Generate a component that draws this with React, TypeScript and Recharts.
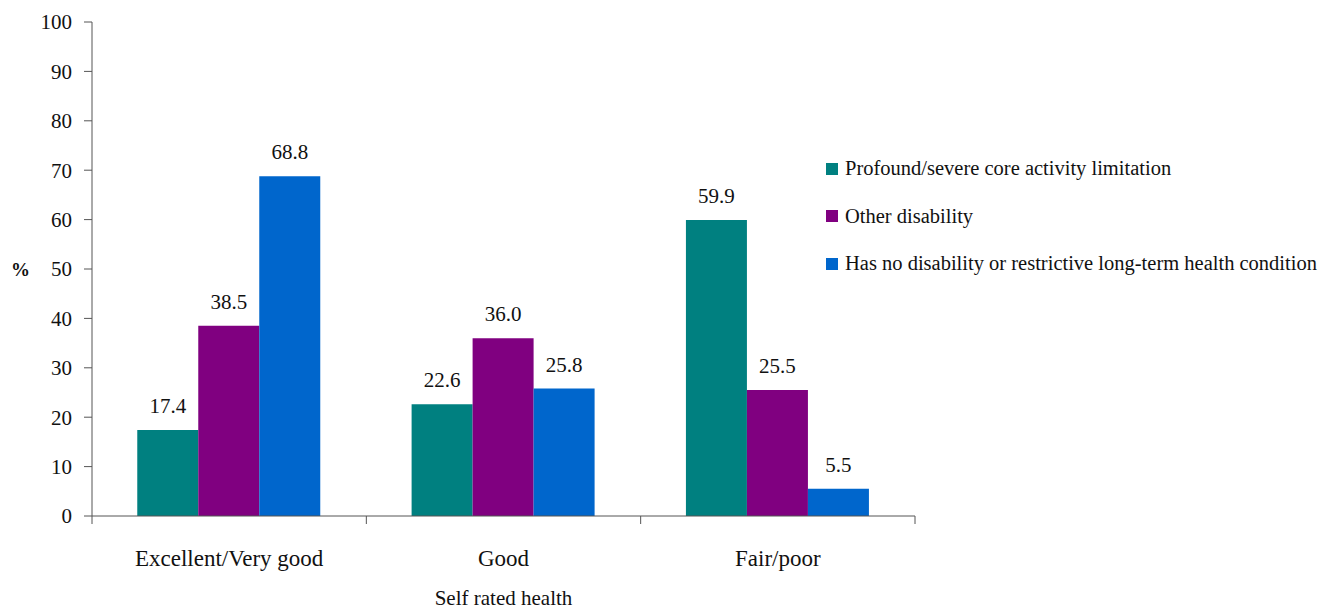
import React from "react";
import { BarChart, Bar, XAxis, YAxis, LabelList } from "recharts";

const categories = ["Excellent/Very good", "Good", "Fair/poor"];
const profound = [17.4, 22.6, 59.9];
const otherDisability = [38.5, 36.0, 25.5];
const noDisability = [68.8, 25.8, 5.5];
const yTicks = [0, 10, 20, 30, 40, 50, 60, 70, 80, 90, 100];

const seriesNames = [
  "Profound/severe core activity limitation",
  "Other disability",
  "Has no disability or restrictive long-term health condition",
];
const seriesColors = ["#008080", "#800080", "#0066CC"];

const data = categories.map((name, i) => ({
  name,
  s0: profound[i],
  s1: otherDisability[i],
  s2: noDisability[i],
}));

const font = "'Liberation Serif', 'Times New Roman', serif";
const textColor = "#111";
const axisColor = "#555";

const CategoryTick = (props: any) => {
  const { x, y, payload, index } = props;
  const half = payload && payload.offset ? payload.offset : 137;
  return (
    <g>
      <line x1={x - half} y1={y} x2={x - half} y2={y + 8} stroke={axisColor} strokeWidth={1} />
      {index === categories.length - 1 && (
        <line x1={x + half} y1={y} x2={x + half} y2={y + 8} stroke={axisColor} strokeWidth={1} />
      )}
      <text x={x} y={y + 50} textAnchor="middle" fontSize={23} fontFamily={font} fill={textColor}>
        {payload.value}
      </text>
    </g>
  );
};

export default function App() {
  return (
    <div style={{ position: "absolute", left: 0, top: 0, width: 1320, height: 611, background: "#fff" }}>
      <BarChart
        width={1320}
        height={611}
        data={data}
        margin={{ top: 22, right: 405, left: 32, bottom: 0 }}
        barCategoryGap="16.5%"
        barGap={0}
      >
        <XAxis
          dataKey="name"
          height={95}
          tickLine={false}
          tickSize={0}
          tickMargin={0}
          axisLine={{ stroke: axisColor }}
          tick={<CategoryTick />}
          interval={0}
          label={{ value: "Self rated health", position: "insideBottom", offset: 6, fontSize: 21, fontFamily: font, fill: textColor }}
        />
        <YAxis
          width={60}
          domain={[0, 100]}
          ticks={yTicks}
          interval={0}
          tickSize={8}
          tickMargin={12}
          axisLine={{ stroke: axisColor }}
          tickLine={{ stroke: axisColor }}
          tick={{ fontSize: 21, fontFamily: font, fill: textColor }}
          label={{ value: "%", angle: 0, position: "left", offset: 2, fontSize: 19, fontWeight: "bold", fontFamily: font, fill: textColor }}
        />
        {["s0", "s1", "s2"].map((k, i) => (
          <Bar key={k} dataKey={k} name={seriesNames[i]} fill={seriesColors[i]} isAnimationActive={false}>
            <LabelList
              dataKey={k}
              position="top"
              offset={17}
              formatter={(v: any) => Number(v).toFixed(1)}
              style={{ fontSize: 21, fontFamily: font, fill: textColor }}
            />
          </Bar>
        ))}
      </BarChart>
      <div style={{ position: "absolute", left: 826, top: 145, fontFamily: font, fontSize: 20.5, color: textColor }}>
        {seriesNames.map((n, i) => (
          <div key={n} style={{ display: "flex", alignItems: "center", height: 47.5 }}>
            <span style={{ display: "inline-block", width: 12, height: 12, background: seriesColors[i], marginRight: 7 }} />
            <span>{n}</span>
          </div>
        ))}
      </div>
    </div>
  );
}
